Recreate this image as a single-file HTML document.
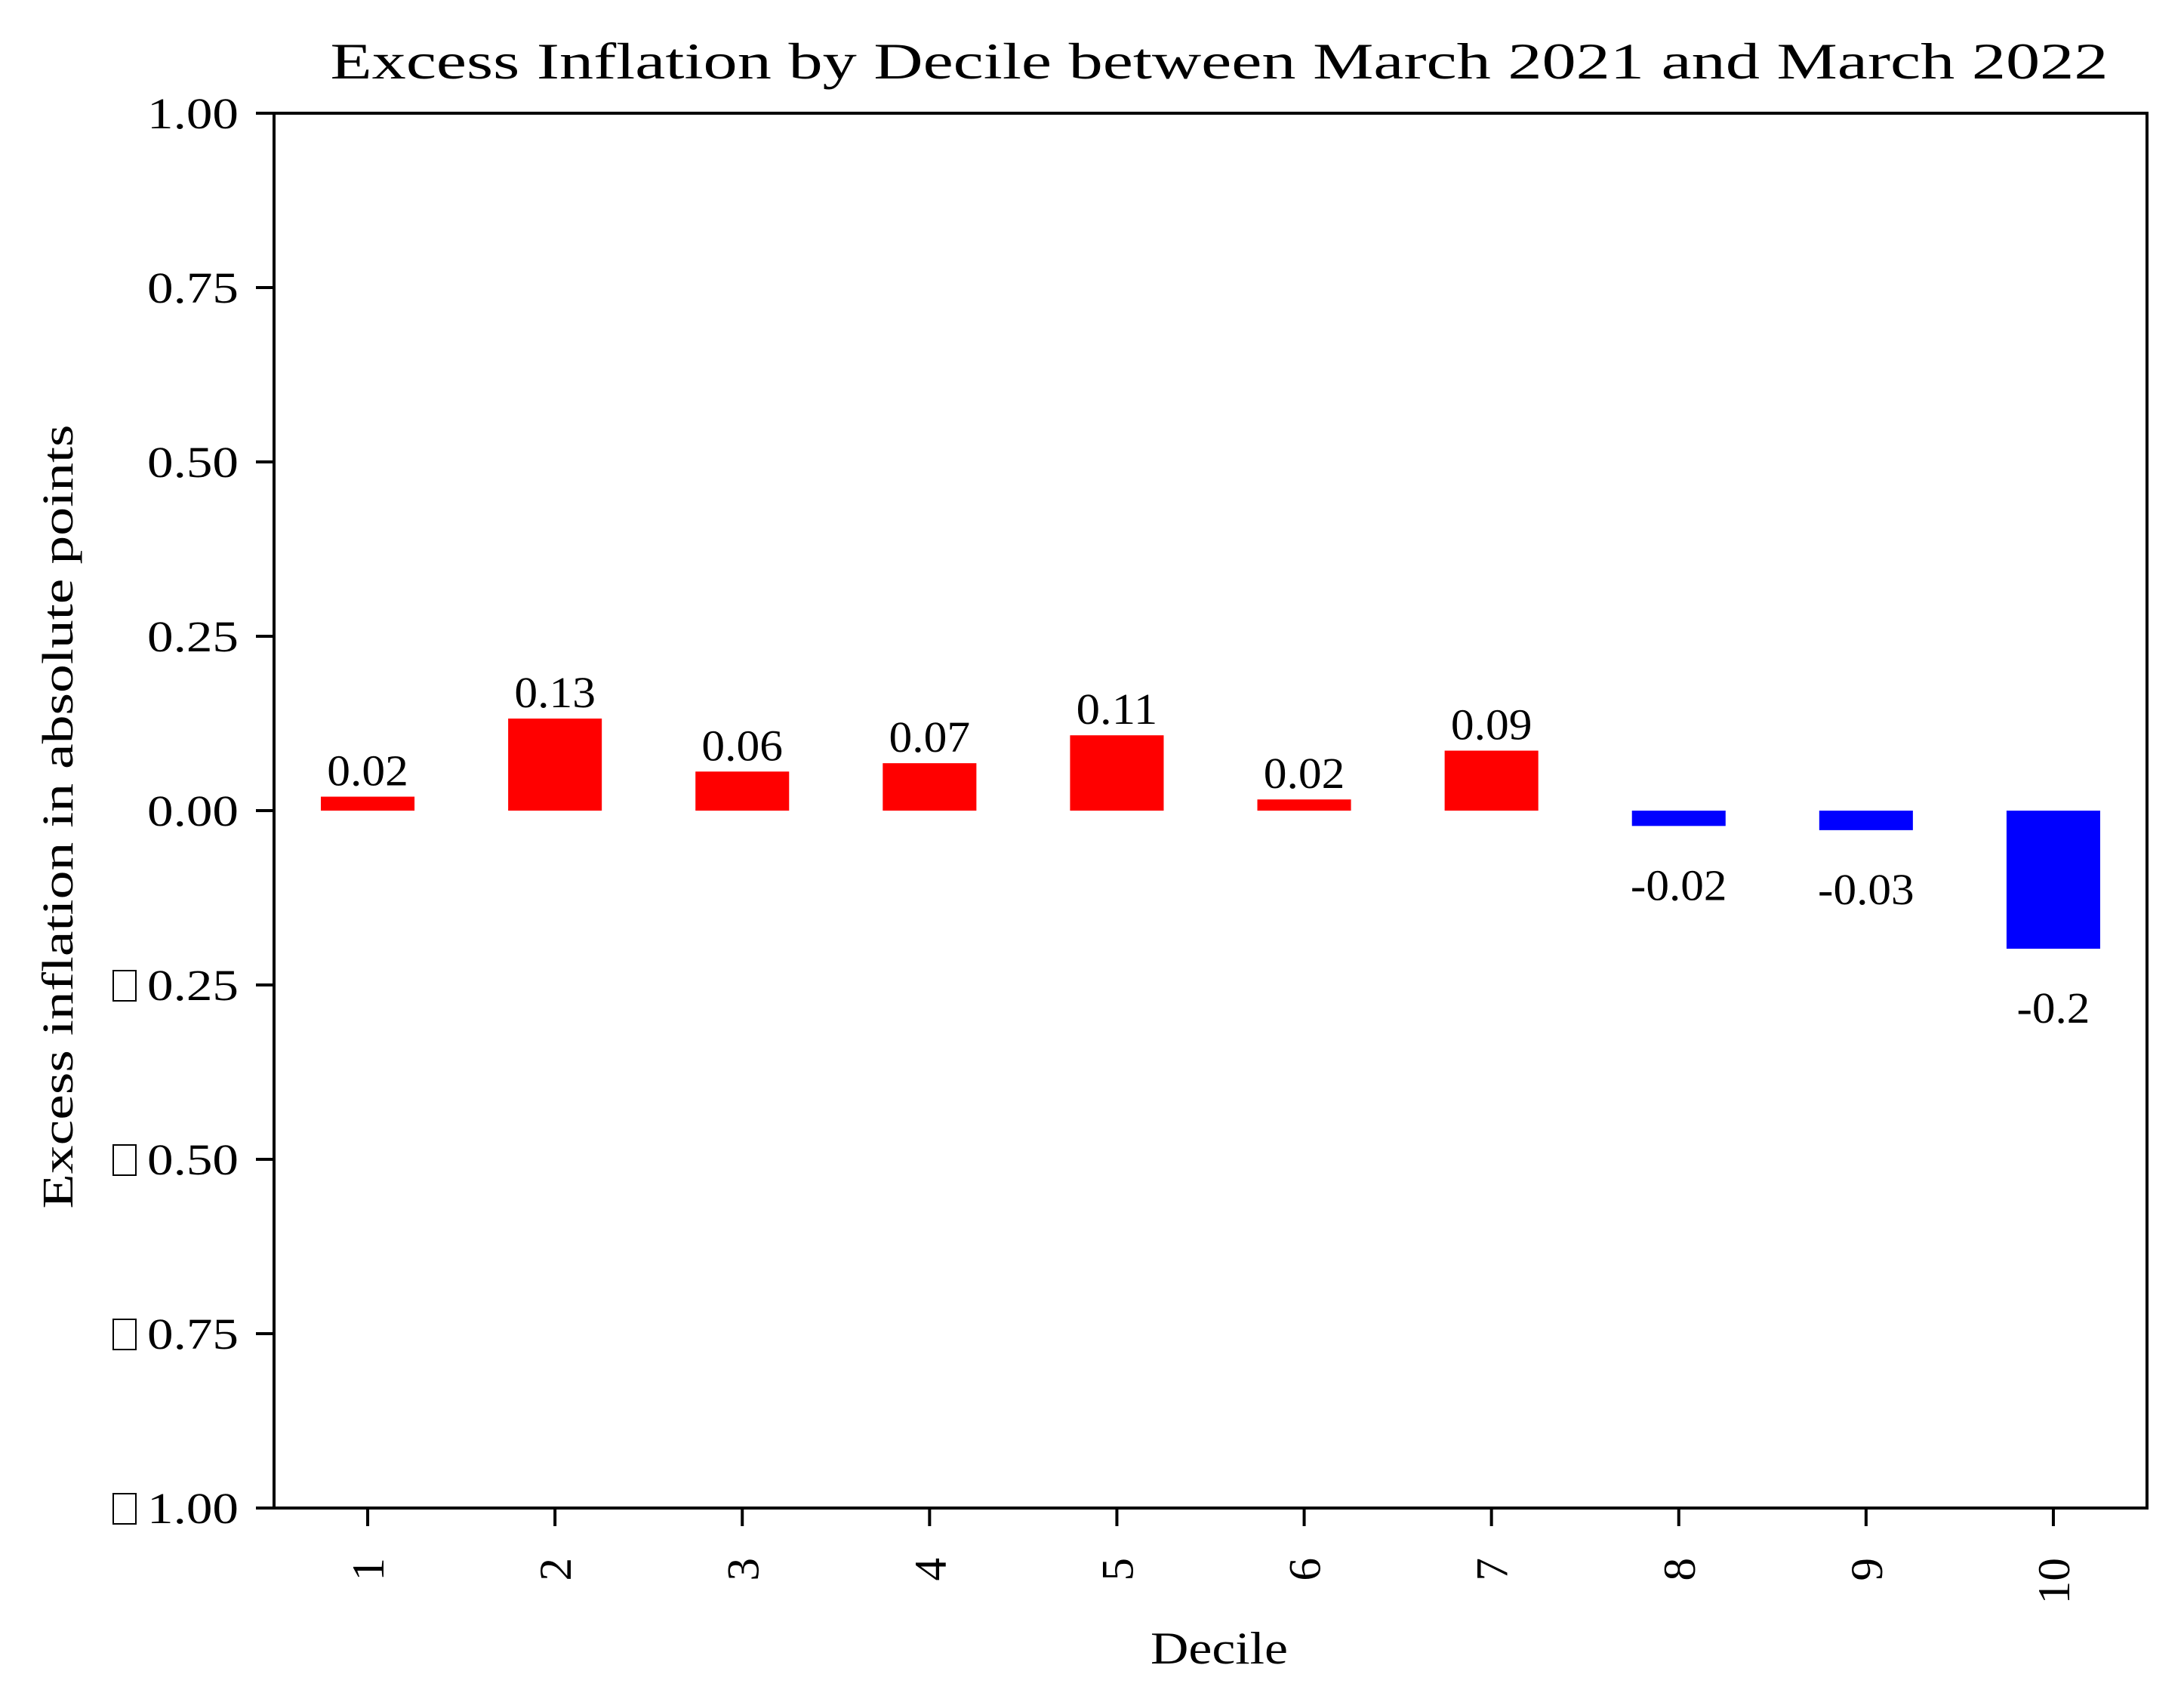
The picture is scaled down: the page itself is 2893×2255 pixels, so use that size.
<!DOCTYPE html>
<html><head><meta charset="utf-8"><style>
html,body{margin:0;padding:0;background:#fff;}
svg{display:block;font-family:"Liberation Serif","DejaVu Serif",serif;}
</style></head><body>
<svg id="chart" width="2893" height="2255" viewBox="0 0 2893 2255" xmlns="http://www.w3.org/2000/svg">
<rect width="2893" height="2255" fill="#fff"/>
<text x="1615" y="104" font-size="68" text-anchor="middle" textLength="2355" lengthAdjust="spacingAndGlyphs">Excess Inflation by Decile between March 2021 and March 2022</text>
<g id="plot"></g>
<text transform="translate(96,1082) rotate(-90)" font-size="58" text-anchor="middle" textLength="1039" lengthAdjust="spacingAndGlyphs">Excess inflation in absolute points</text>
<text x="1615" y="2204" font-size="60" text-anchor="middle" textLength="182" lengthAdjust="spacingAndGlyphs">Decile</text>
</svg>
<script>
const categories = ["1","2","3","4","5","6","7","8","9","10"];
const values = [0.02, 0.132, 0.056, 0.068, 0.108, 0.016, 0.086, -0.022, -0.028, -0.198];
const valueLabels = ["0.02","0.13","0.06","0.07","0.11","0.02","0.09","-0.02","-0.03","-0.2"];
const yTicks = [1.0, 0.75, 0.5, 0.25, 0.0, -0.25, -0.5, -0.75, -1.0];
const yTickLabels = ["1.00","0.75","0.50","0.25","0.00","0.25","0.50","0.75","1.00"];

const L=363,R=2844,T=150,B=1998;
const yMin=-1,yMax=1;
const n=categories.length;
const xScale=i=>L+(i+0.5)*(R-L)/n;
const yScale=v=>B-(v-yMin)/(yMax-yMin)*(B-T);
const bw=0.5*(R-L)/n;
const NS="http://www.w3.org/2000/svg";
const g=document.getElementById('plot');
function mk(tag,attrs){const e=document.createElementNS(NS,tag);for(const k in attrs)e.setAttribute(k,attrs[k]);g.appendChild(e);return e;}
function numLen(s){let w=0;for(const c of s){w+= c==='.'?15.5:(c==='-'?20:30.7);}return w;}

values.forEach((v,i)=>{
  const x=xScale(i), y0=yScale(0), y1=yScale(v);
  const r=mk('rect',{x:x-bw/2,y:Math.min(y0,y1),width:bw,height:Math.abs(y1-y0),fill:v>=0?'#ff0000':'#0000ff'});
  
  
  const t=mk('text',{x:x,'font-size':58,'text-anchor':'middle',textLength:numLen(valueLabels[i]),lengthAdjust:'spacingAndGlyphs'});
  t.textContent=valueLabels[i];
  if(v>=0){t.setAttribute('y',y1-15);}else{t.setAttribute('y',y1+98);}
  
  
  const tk=mk('line',{x1:x,x2:x,y1:B,y2:B+24,stroke:'#000','stroke-width':4});
  
  
  const tl=mk('text',{transform:`translate(${x+21},2064) rotate(-90)`,'font-size':60,'text-anchor':'end',textLength:numLen(categories[i]),lengthAdjust:'spacingAndGlyphs'});
  tl.textContent=categories[i];
  
  
});

yTicks.forEach((v,i)=>{
  const y=yScale(v);
  const tk=mk('line',{x1:L-24,x2:L,y1:y,y2:y,stroke:'#000','stroke-width':4});
  
  
  const t=mk('text',{x:316,y:y+20,'font-size':58,'text-anchor':'end',textLength:121,lengthAdjust:'spacingAndGlyphs'});
  t.textContent=yTickLabels[i];
  
  
  if(v<0){
    const bx=mk('rect',{x:150,y:y-19,width:30,height:40,fill:'none',stroke:'#000','stroke-width':2});
    
    
  }
});

const frame=mk('rect',{x:L,y:T,width:R-L,height:B-T,fill:'none',stroke:'#000','stroke-width':4});


</script>
</body></html>
